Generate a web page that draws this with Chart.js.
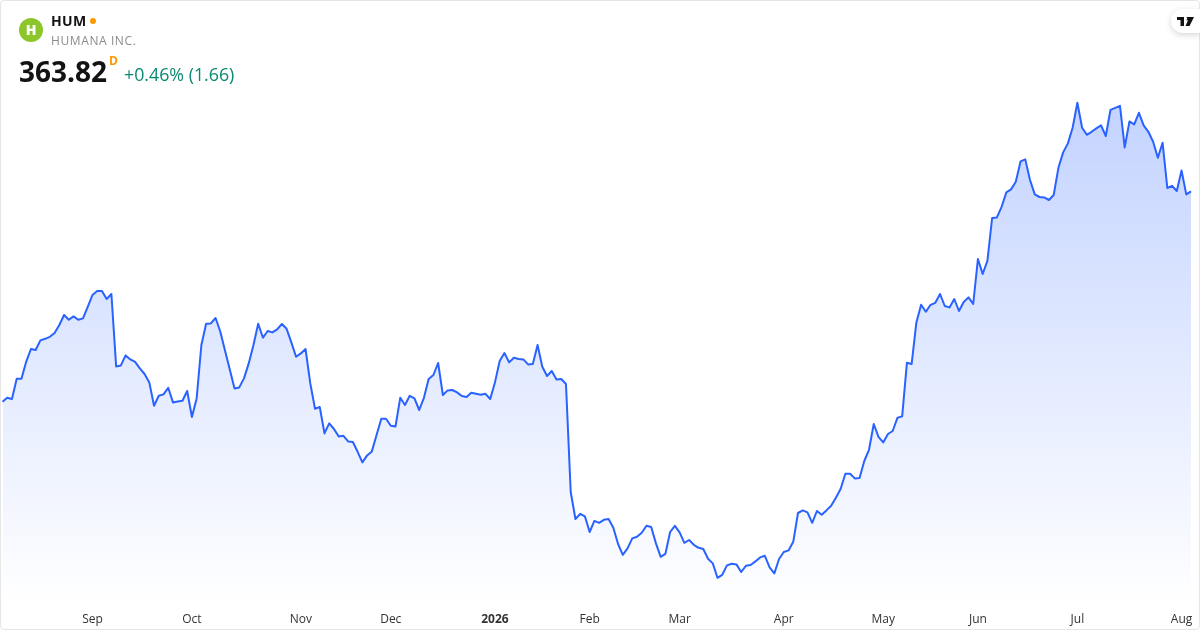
<!DOCTYPE html>
<html>
<head>
<meta charset="utf-8">
<title>HUM</title>
<script src="https://cdn.jsdelivr.net/npm/chart.js@4"></script>
<style>
  html, body { margin: 0; padding: 0; background: #fff; }
  body { width: 1200px; height: 630px; overflow: hidden; position: relative; font-family: "Open Sans", sans-serif; }
  #chart { position: absolute; left: 0; top: 0; }
  #card { position: absolute; left: 0; top: 0; width: 1198px; height: 628px; border: 1px solid #e6e6e6; border-radius: 4px; pointer-events: none; }
  #logo { position: absolute; left: 19px; top: 18px; width: 24px; height: 24px; border-radius: 50%; background: #8cc62a; color: #fff; font: 800 14px/24px "Open Sans", sans-serif; text-align: center; }
  #symbol { position: absolute; left: 51px; top: 12px; font: 700 14px/18px "Open Sans", sans-serif; letter-spacing: .4px; color: #131313; }
  #dot { position: absolute; left: 90px; top: 18px; width: 6px; height: 6px; border-radius: 50%; background: #ff9800; }
  #name { position: absolute; left: 51px; top: 32px; font: 400 12px/17px "Open Sans", sans-serif; letter-spacing: .6px; color: #8c8c8c; }
  #price { position: absolute; left: 19px; top: 52px; font: 700 28px/38px "Open Sans", sans-serif; color: #131313; }
  #session { position: absolute; left: 109px; top: 54px; font: 700 12px/14px "Open Sans", sans-serif; color: #ff9800; }
  #change { position: absolute; left: 124px; top: 62px; font: 400 17.8px/24px "Open Sans", sans-serif; color: #0a8a70; }
  #tv { position: absolute; left: 1171px; top: 9px; width: 29px; height: 24px; background: #fff; border-radius: 12px 0 0 12px; box-shadow: 0 2px 6px rgba(0,0,0,.16); }
  #tv svg { position: absolute; left: 6px; top: 8px; }
</style>
</head>
<body>
<canvas id="chart" width="1200" height="630"></canvas>
<div id="card"></div>
<div id="logo">H</div>
<div id="symbol">HUM</div>
<div id="dot"></div>
<div id="name">HUMANA INC.</div>
<div id="price">363.82</div>
<div id="session">D</div>
<div id="change">+0.46% (1.66)</div>
<div id="tv"><svg width="17" height="9" viewBox="0 0 17 9"><path d="M0 0h7v9H3.5V3H0zM9 0h8l-4.5 9H8.5L11 3.2H8a1.6 1.6 0 0 0 1-3.2z" fill="#131313"/></svg></div>
<script>
// trading days, Aug 2025 -> Aug 2026
var categories = [
  "2025-08-05","2025-08-06","2025-08-07","2025-08-08","2025-08-11","2025-08-12","2025-08-13","2025-08-14","2025-08-15","2025-08-18","2025-08-19","2025-08-20","2025-08-21","2025-08-22","2025-08-25","2025-08-26","2025-08-27","2025-08-28","2025-08-29",
  "2025-09-02","2025-09-03","2025-09-04","2025-09-05","2025-09-08","2025-09-09","2025-09-10","2025-09-11","2025-09-12","2025-09-15","2025-09-16","2025-09-17","2025-09-18","2025-09-19","2025-09-22","2025-09-23","2025-09-24","2025-09-25","2025-09-26","2025-09-29","2025-09-30",
  "2025-10-01","2025-10-02","2025-10-03","2025-10-06","2025-10-07","2025-10-08","2025-10-09","2025-10-10","2025-10-13","2025-10-14","2025-10-15","2025-10-16","2025-10-17","2025-10-20","2025-10-21","2025-10-22","2025-10-23","2025-10-24","2025-10-27","2025-10-28","2025-10-29","2025-10-30","2025-10-31",
  "2025-11-03","2025-11-04","2025-11-05","2025-11-06","2025-11-07","2025-11-10","2025-11-11","2025-11-12","2025-11-13","2025-11-14","2025-11-17","2025-11-18","2025-11-19","2025-11-20","2025-11-21","2025-11-24","2025-11-25","2025-11-26","2025-11-28",
  "2025-12-01","2025-12-02","2025-12-03","2025-12-04","2025-12-05","2025-12-08","2025-12-09","2025-12-10","2025-12-11","2025-12-12","2025-12-15","2025-12-16","2025-12-17","2025-12-18","2025-12-19","2025-12-22","2025-12-23","2025-12-24","2025-12-26","2025-12-29","2025-12-30","2025-12-31",
  "2026-01-02","2026-01-05","2026-01-06","2026-01-07","2026-01-08","2026-01-09","2026-01-12","2026-01-13","2026-01-14","2026-01-15","2026-01-16","2026-01-20","2026-01-21","2026-01-22","2026-01-23","2026-01-26","2026-01-27","2026-01-28","2026-01-29","2026-01-30",
  "2026-02-02","2026-02-03","2026-02-04","2026-02-05","2026-02-06","2026-02-09","2026-02-10","2026-02-11","2026-02-12","2026-02-13","2026-02-17","2026-02-18","2026-02-19","2026-02-20","2026-02-23","2026-02-24","2026-02-25","2026-02-26","2026-02-27",
  "2026-03-02","2026-03-03","2026-03-04","2026-03-05","2026-03-06","2026-03-09","2026-03-10","2026-03-11","2026-03-12","2026-03-13","2026-03-16","2026-03-17","2026-03-18","2026-03-19","2026-03-20","2026-03-23","2026-03-24","2026-03-25","2026-03-26","2026-03-27","2026-03-30","2026-03-31",
  "2026-04-01","2026-04-02","2026-04-06","2026-04-07","2026-04-08","2026-04-09","2026-04-10","2026-04-13","2026-04-14","2026-04-15","2026-04-16","2026-04-17","2026-04-20","2026-04-21","2026-04-22","2026-04-23","2026-04-24","2026-04-27","2026-04-28","2026-04-29","2026-04-30",
  "2026-05-01","2026-05-04","2026-05-05","2026-05-06","2026-05-07","2026-05-08","2026-05-11","2026-05-12","2026-05-13","2026-05-14","2026-05-15","2026-05-18","2026-05-19","2026-05-20","2026-05-21","2026-05-22","2026-05-26","2026-05-27","2026-05-28","2026-05-29",
  "2026-06-01","2026-06-02","2026-06-03","2026-06-04","2026-06-05","2026-06-08","2026-06-09","2026-06-10","2026-06-11","2026-06-12","2026-06-15","2026-06-16","2026-06-17","2026-06-18","2026-06-22","2026-06-23","2026-06-24","2026-06-25","2026-06-26","2026-06-29","2026-06-30",
  "2026-07-01","2026-07-02","2026-07-06","2026-07-07","2026-07-08","2026-07-09","2026-07-10","2026-07-13","2026-07-14","2026-07-15","2026-07-16","2026-07-17","2026-07-20","2026-07-21","2026-07-22","2026-07-23","2026-07-24","2026-07-27","2026-07-28","2026-07-29","2026-07-30","2026-07-31",
  "2026-08-03","2026-08-04","2026-08-05"
];

// closes
var closes = [
  258.6,260.6,260.0,270.1,270.1,278.6,285.0,284.5,289.3,290.1,
  291.1,293.0,297.0,302.0,299.6,301.3,299.6,300.3,306.1,312.0,
  314.0,314.0,310.0,312.5,276.3,276.8,281.8,279.8,278.6,275.3,
  272.5,268.3,256.6,261.6,262.3,265.6,258.3,258.8,259.1,264.0,
  251.0,260.3,287.0,297.6,297.8,300.5,293.6,284.1,274.8,265.3,
  265.8,270.3,277.8,287.0,297.6,290.6,294.0,293.3,294.8,297.5,
  295.1,288.3,281.1,282.8,285.0,267.8,255.1,256.0,242.8,247.8,
  245.0,241.3,241.6,238.8,238.5,233.6,228.3,231.8,233.8,242.0,
  250.1,250.1,246.6,246.3,260.6,257.0,261.6,260.3,254.5,260.6,
  270.0,272.0,278.0,262.0,264.3,264.5,263.3,261.5,261.0,263.1,
  262.6,262.1,262.6,260.0,268.3,279.0,283.0,278.3,280.6,280.0,
  279.8,277.3,277.5,287.0,276.1,271.5,274.0,269.8,270.0,267.5,
  213.5,200.0,202.6,201.3,193.5,199.1,198.1,199.6,200.0,195.6,
  187.5,182.1,185.3,190.3,191.1,193.1,196.6,196.0,187.8,181.1,
  182.6,193.5,196.6,193.3,188.1,189.5,187.1,185.6,185.0,180.1,
  177.8,170.6,172.1,176.8,177.6,177.3,173.5,176.6,177.0,178.8,
  180.8,181.6,175.8,172.8,180.0,183.5,184.3,188.6,203.0,204.3,
  203.3,198.1,204.0,202.1,204.3,206.6,210.6,215.0,222.6,222.6,
  220.3,220.5,229.0,234.6,247.5,241.1,238.3,242.5,244.0,250.6,
  251.3,278.1,277.5,298.3,307.1,303.6,307.1,308.1,312.5,306.5,
  305.8,310.0,304.0,308.5,310.8,307.5,330.0,322.5,329.1,350.5,
  350.8,356.1,363.3,364.8,368.6,378.8,379.8,369.5,362.3,361.0,
  360.8,359.5,362.0,375.6,383.3,387.8,395.6,408.1,395.6,392.1,
  393.6,395.3,396.8,391.5,404.6,405.6,406.6,385.8,398.8,397.3,
  403.1,396.8,393.6,388.6,380.6,388.1,365.5,366.6,364.0,374.3,
  362.3,363.82
];

var tickDays = ["2025-09-02","2025-10-01","2025-11-03","2025-12-01","2026-01-02","2026-02-02","2026-03-02","2026-04-01","2026-05-01","2026-06-01","2026-07-01","2026-08-03"];
var tickLabels = ["Sep","Oct","Nov","Dec","2026","Feb","Mar","Apr","May","Jun","Jul","Aug"];

var BLUE = "#2962FF";

function areaFill(context) {
  var c = context.chart;
  if (!c.chartArea) return "rgba(41,98,255,0.1)";
  var top = c.scales.y.getPixelForValue(Math.max.apply(null, closes));
  var g = c.ctx.createLinearGradient(0, top, 0, c.chartArea.bottom);
  g.addColorStop(0, "rgba(41,98,255,0.28)");
  g.addColorStop(1, "rgba(41,98,255,0)");
  return g;
}

new Chart(document.getElementById("chart"), {
  type: "line",
  data: {
    labels: categories,
    datasets: [{
      data: closes,
      borderColor: BLUE,
      borderWidth: 2,
      backgroundColor: areaFill,
      fill: "start",
      tension: 0,
      pointRadius: 0,
      borderJoinStyle: "round"
    }]
  },
  options: {
    responsive: false,
    animation: false,
    layout: { padding: { left: 2.5, right: 9, top: 0, bottom: 0 } },
    plugins: { legend: { display: false }, tooltip: { enabled: false } },
    scales: {
      x: {
        grid: { display: false, drawTicks: false },
        border: { display: false },
        afterFit: function(scale) {
          // tick padding would otherwise push the plot in from the left
          scale.height = 25;
          scale.paddingLeft = 0;
          scale.paddingRight = 0;
        },
        ticks: {
          autoSkip: false,
          maxRotation: 0,
          padding: 7,
          color: "#333333",
          font: function(ctx) {
            var isYear = ctx.tick && ctx.tick.label === "2026";
            return { family: "'Open Sans', sans-serif", size: 12, weight: isYear ? "700" : "400" };
          },
          callback: function(value) {
            var i = tickDays.indexOf(categories[value]);
            return i < 0 ? "" : tickLabels[i];
          }
        }
      },
      y: { display: false, min: 157, max: 459.5 }
    }
  }
});
</script>
</body>
</html>
